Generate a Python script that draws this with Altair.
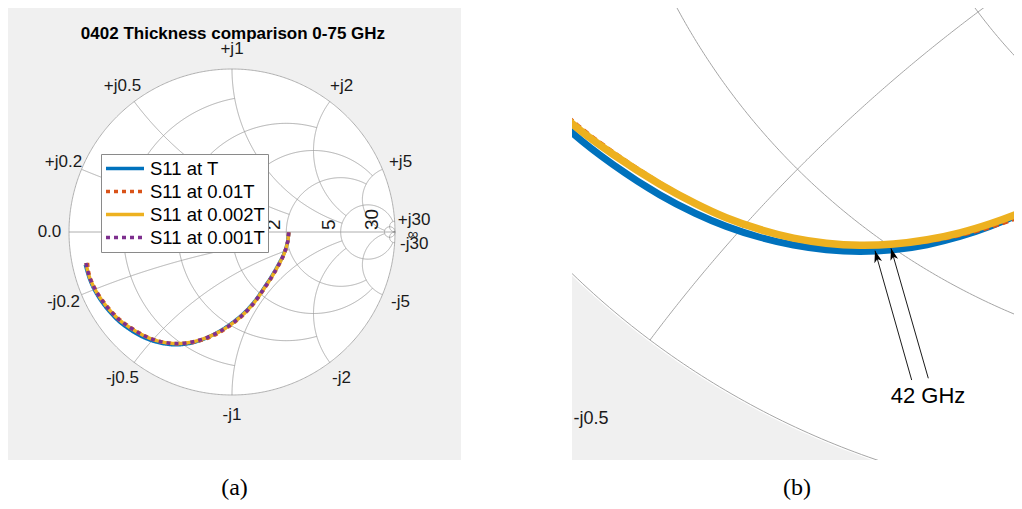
import numpy as np
import pandas as pd
import altair as alt

# ---------------------------------------------------------------
# Data: S11 reflection coefficient (real, imag), from DC to 75 GHz
# ---------------------------------------------------------------
series_names = ["S11 at T", "S11 at 0.01T", "S11 at 0.002T", "S11 at 0.001T"]
series_colors = ["#0072BD", "#D95319", "#EDB120", "#7E2F8E"]

t_re = [0.348, 0.346, 0.341, 0.330, 0.313, 0.290, 0.262, 0.235, 0.205, 0.175,
        0.139, 0.100, 0.065, 0.030, -0.005, -0.040, -0.074, -0.110, -0.147, -0.185,
        -0.222, -0.262, -0.303, -0.344, -0.385, -0.425, -0.465, -0.507, -0.545, -0.588,
        -0.645, -0.694, -0.735, -0.770, -0.805, -0.835, -0.860, -0.880, -0.900]
t_im = [-0.002, -0.025, -0.060, -0.100, -0.145, -0.190, -0.240, -0.285, -0.330, -0.375,
        -0.425, -0.470, -0.505, -0.535, -0.562, -0.586, -0.607, -0.627, -0.6453, -0.6613,
        -0.6738, -0.6838, -0.6900, -0.6920, -0.6899, -0.6842, -0.6750, -0.6614, -0.6454, -0.6230,
        -0.5861, -0.5480, -0.507, -0.467, -0.420, -0.372, -0.322, -0.270, -0.200]

t01_re = [0.348, 0.346, 0.341, 0.330, 0.313, 0.290, 0.262, 0.235, 0.205, 0.175,
          0.139, 0.100, 0.065, 0.030, -0.005, -0.040, -0.074, -0.110, -0.147, -0.185,
          -0.222, -0.262, -0.303, -0.344, -0.385, -0.425, -0.465, -0.507, -0.545, -0.588,
          -0.645, -0.694, -0.735, -0.770, -0.805, -0.835, -0.860, -0.878, -0.888]
t01_im = [-0.002, -0.026, -0.063, -0.105, -0.152, -0.198, -0.248, -0.293, -0.338, -0.383,
          -0.433, -0.478, -0.513, -0.543, -0.570, -0.594, -0.615, -0.634, -0.6503, -0.6633,
          -0.6733, -0.6808, -0.6850, -0.6855, -0.6824, -0.6757, -0.6650, -0.6494, -0.6309, -0.6070,
          -0.5696, -0.5320, -0.491, -0.451, -0.404, -0.356, -0.306, -0.253, -0.172]

t002_re = [0.348, 0.346, 0.341, 0.330, 0.313, 0.290, 0.262, 0.235, 0.205, 0.175,
           0.139, 0.100, 0.065, 0.030, -0.005, -0.040, -0.074, -0.110, -0.147, -0.185,
           -0.222, -0.262, -0.303, -0.344, -0.385, -0.425, -0.465, -0.507, -0.545, -0.588,
           -0.645, -0.694, -0.735, -0.770, -0.805, -0.835, -0.860, -0.880, -0.896]
t002_im = [-0.002, -0.026, -0.062, -0.103, -0.149, -0.194, -0.244, -0.289, -0.334, -0.379,
           -0.429, -0.474, -0.509, -0.539, -0.566, -0.590, -0.610, -0.628, -0.6443, -0.6583,
           -0.6693, -0.6778, -0.6830, -0.6845, -0.6819, -0.6757, -0.6655, -0.6509, -0.6334, -0.6100,
           -0.5736, -0.5370, -0.496, -0.456, -0.409, -0.361, -0.311, -0.259, -0.190]

t001_re = [0.348, 0.346, 0.341, 0.330, 0.313, 0.290, 0.262, 0.235, 0.205, 0.175,
           0.139, 0.100, 0.065, 0.030, -0.005, -0.040, -0.074, -0.110, -0.147, -0.185,
           -0.222, -0.262, -0.303, -0.344, -0.385, -0.425, -0.465, -0.507, -0.545, -0.588,
           -0.645, -0.694, -0.735, -0.770, -0.805, -0.835, -0.860, -0.880, -0.896]
t001_im = [-0.002, -0.026, -0.062, -0.103, -0.149, -0.194, -0.244, -0.289, -0.334, -0.379,
           -0.429, -0.474, -0.509, -0.539, -0.566, -0.590, -0.610, -0.628, -0.6443, -0.6583,
           -0.6693, -0.6778, -0.6830, -0.6845, -0.6819, -0.6757, -0.6655, -0.6509, -0.6334, -0.6100,
           -0.5736, -0.5370, -0.496, -0.456, -0.409, -0.361, -0.311, -0.259, -0.190]

# 42 GHz annotation (panel b): arrow tips on the curves, arrow tails, label
ann_tip_re = [-0.3256, -0.3061]
ann_tip_im = [-0.6911, -0.6882]
ann_tail_re = [-0.2809, -0.2606]
ann_tail_im = [-0.8488, -0.8467]
ann_label = "42 GHz"
ann_label_re = -0.261
ann_label_im = -0.868

# Smith chart grid values and the limit each circle / arc is drawn to
grid_values = [0.2, 0.5, 1, 2, 5, 30]
grid_limits = [1, 2, 5, 5, 30, np.inf]

title_text = "0402 Thickness comparison 0-75 GHz"

# ---------------------------------------------------------------
# Layout (pixels)
# ---------------------------------------------------------------
A_W, A_H = 453, 452
A_CX, A_CY, A_R = 224, 224, 163          # centre / radius of the Smith circle
B_W, B_H = 442, 452
B_CX, B_CY, B_S = 570, -324, 820          # zoomed view of the same chart

xdomA = [-A_CX / A_R, (A_W - A_CX) / A_R]
ydomA = [(A_CY - A_H) / A_R, A_CY / A_R]
xdomB = [-B_CX / B_S, (B_W - B_CX) / B_S]
ydomB = [(B_CY - B_H) / B_S, B_CY / B_S]

GRID_COLOR = "#9b9b9b"
FONT = "Liberation Sans"

# ---------------------------------------------------------------
# Build tables
# ---------------------------------------------------------------
series_re = [t_re, t01_re, t002_re, t001_re]
series_im = [t_im, t01_im, t002_im, t001_im]
curves = pd.concat([
    pd.DataFrame({"re": r, "im": m, "i": np.arange(len(r)), "series": n})
    for r, m, n in zip(series_re, series_im, series_names)
], ignore_index=True)


def gamma(z):
    return (z - 1) / (z + 1)


rows = []


def add_seg(name, pts):
    for k, p in enumerate(pts):
        rows.append({"seg": name, "i": k, "re": float(np.real(p)), "im": float(np.imag(p))})


add_seg("unit", np.exp(1j * np.linspace(0, 2 * np.pi, 721)))
add_seg("axis", np.array([-1 + 0j, 1 + 0j]))
for v, lim in zip(grid_values, grid_limits):
    c, rho = v / (1 + v), 1 / (1 + v)
    t0 = 0.0 if np.isinf(lim) else float(np.angle(gamma(v + 1j * lim) - c))
    add_seg(f"r{v}", c + rho * np.exp(1j * np.linspace(t0, 2 * np.pi - t0, 541)))
    cc, rr = 1 + 1j / v, 1 / v
    a0 = np.mod(np.angle(gamma(1j * v) - cc), 2 * np.pi)
    a1 = 1.5 * np.pi if np.isinf(lim) else np.mod(np.angle(gamma(lim + 1j * v) - cc), 2 * np.pi)
    pts = cc + rr * np.exp(1j * np.linspace(a0, a1, 361))
    add_seg(f"xp{v}", pts)
    add_seg(f"xm{v}", np.conj(pts))
grid = pd.DataFrame(rows)


def window(df, xd, yd, m=0.06):
    keep = (df.re >= xd[0] - m) & (df.re <= xd[1] + m) & (df.im >= yd[0] - m) & (df.im <= yd[1] + m)
    d = df[keep].copy()
    brk = (d.groupby("seg")["i"].diff() != 1).astype(int)
    d["run"] = brk.groupby(d["seg"]).cumsum()
    d["seg"] = d["seg"] + "_" + d["run"].astype(str)
    return d


gridB = window(grid, xdomB, ydomB)

th = np.linspace(np.pi, 0, 721)
disk = pd.DataFrame({"re": 1.002 * np.cos(th), "top": 1.002 * np.sin(th), "bot": -1.002 * np.sin(th)})
diskB = disk[(disk.re >= xdomB[0] - 0.06) & (disk.re <= xdomB[1] + 0.06)]

KL = 1.12
lab_rows = []
for v in grid_values:
    g = gamma(1j * v)
    lab_rows.append({"re": KL * g.real, "im": KL * g.imag, "text": f"+j{v:g}"})
    lab_rows.append({"re": KL * g.real, "im": -KL * g.imag, "text": f"-j{v:g}"})
lab_rows.append({"re": -KL, "im": 0.0, "text": "0.0"})
xlabels = pd.DataFrame(lab_rows)
xlabelsB = xlabels[(xlabels.re > xdomB[0]) & (xlabels.re < xdomB[1]) &
                   (xlabels.im > ydomB[0]) & (xlabels.im < ydomB[1])]
rlabels = pd.DataFrame({"re": [(v - 1) / (v + 1) for v in grid_values], "im": 0.0,
                        "text": [f"{v:g}" for v in grid_values]})
inf_label = pd.DataFrame({"re": [1.11], "im": [-0.012], "text": ["\u221e"]})
title_df = pd.DataFrame({"re": [0.006], "im": [(A_CY - 26) / A_R], "text": [title_text]})

ann = pd.DataFrame({"re": ann_tail_re, "im": ann_tail_im, "re2": ann_tip_re, "im2": ann_tip_im})
ann["angle"] = np.mod(np.degrees(np.arctan2(ann.re2 - ann.re, ann.im2 - ann.im)), 360)
ann_text = pd.DataFrame({"re": [ann_label_re], "im": [ann_label_im], "text": [ann_label]})

# ---------------------------------------------------------------
# Encodings helpers
# ---------------------------------------------------------------
def X(dom, f="re"):
    return alt.X(f"{f}:Q", scale=alt.Scale(domain=dom, nice=False, zero=False), axis=None)


def Y(dom, f="im"):
    return alt.Y(f"{f}:Q", scale=alt.Scale(domain=dom, nice=False, zero=False), axis=None)


legend = alt.Legend(title=None, orient="none", legendX=93, legendY=146,
                    symbolType="stroke", symbolSize=1444, symbolStrokeWidth=3.5,
                    labelFontSize=18.5, labelFont=FONT, labelColor="black",
                    fillColor="white", strokeColor="#8a8a8a", padding=3,
                    rowPadding=0, clipHeight=23, labelOffset=4)
color_enc = alt.Color("series:N", scale=alt.Scale(domain=series_names, range=series_colors), legend=legend)
dash_enc = alt.StrokeDash("series:N", scale=alt.Scale(domain=series_names,
                                                       range=[[1, 0], [4, 4], [1, 0], [4, 4]]), legend=legend)

# ---------------------------------------------------------------
# Panel (a)
# ---------------------------------------------------------------
la = []
la.append(alt.Chart(disk).mark_area(color="white").encode(x=X(xdomA), y=Y(ydomA, "top"), y2="bot:Q"))
la.append(alt.Chart(grid).mark_line(color=GRID_COLOR, strokeWidth=0.8).encode(
    x=X(xdomA), y=Y(ydomA), detail="seg:N", order="i:Q"))
for n in series_names:
    la.append(alt.Chart(curves[curves.series == n]).mark_line(
        strokeWidth=3.5, strokeCap="butt", interpolate="catmull-rom").encode(
        x=X(xdomA), y=Y(ydomA), order="i:Q", color=color_enc, strokeDash=dash_enc))
la.append(alt.Chart(xlabels).mark_text(font=FONT, fontSize=17, color="#1a1a1a", align="center",
                                       baseline="middle").encode(x=X(xdomA), y=Y(ydomA), text="text:N"))
la.append(alt.Chart(rlabels).mark_text(font=FONT, fontSize=19, color="#1a1a1a", align="left",
                                       baseline="bottom", angle=270, dx=2, dy=-2).encode(
    x=X(xdomA), y=Y(ydomA), text="text:N"))
la.append(alt.Chart(inf_label).mark_text(font=FONT, fontSize=15, color="#1a1a1a", align="center",
                                         baseline="middle").encode(x=X(xdomA), y=Y(ydomA), text="text:N"))
la.append(alt.Chart(title_df).mark_text(font=FONT, fontSize=17, fontWeight="bold", color="black",
                                        align="center", baseline="middle").encode(
    x=X(xdomA), y=Y(ydomA), text="text:N"))

panelA = alt.layer(*la).properties(
    width=A_W, height=A_H,
    title=alt.TitleParams("(a)", orient="bottom", font="Liberation Serif", fontSize=24,
                          fontWeight="normal", color="black", offset=16, anchor="middle"))

# ---------------------------------------------------------------
# Panel (b): zoom on the same chart near 42 GHz
# ---------------------------------------------------------------
lb = []
lb.append(alt.Chart(diskB).mark_area(color="white", clip=True).encode(x=X(xdomB), y=Y(ydomB, "top"), y2="bot:Q"))
lb.append(alt.Chart(gridB).mark_line(color=GRID_COLOR, strokeWidth=0.9, clip=True).encode(
    x=X(xdomB), y=Y(ydomB), detail="seg:N", order="i:Q"))
styleB = {series_names[0]: dict(strokeWidth=7, color=series_colors[0]),
          series_names[1]: dict(strokeWidth=2.5, color=series_colors[1], strokeDash=[6, 4]),
          series_names[2]: dict(strokeWidth=7.5, color=series_colors[2])}
for n in series_names[:3]:
    lb.append(alt.Chart(curves[curves.series == n]).mark_line(
        clip=True, strokeCap="butt", interpolate="catmull-rom", **styleB[n]).encode(
        x=X(xdomB), y=Y(ydomB), order="i:Q"))
lb.append(alt.Chart(xlabelsB).mark_text(font=FONT, fontSize=18, color="#1a1a1a", align="center",
                                        baseline="middle").encode(x=X(xdomB), y=Y(ydomB), text="text:N"))
lb.append(alt.Chart(ann).mark_rule(color="black", strokeWidth=0.9).encode(
    x=X(xdomB), y=Y(ydomB), x2="re2:Q", y2="im2:Q"))
lb.append(alt.Chart(ann).mark_point(shape="M0,0 L0.5,1.5 L0,1.1 L-0.5,1.5 Z", filled=True, size=250,
                                    color="black", opacity=1).encode(
    x=X(xdomB, "re2"), y=Y(ydomB, "im2"), angle=alt.Angle("angle:Q", scale=None)))
lb.append(alt.Chart(ann_text).mark_text(font=FONT, fontSize=22, color="black", align="center",
                                        baseline="middle").encode(x=X(xdomB), y=Y(ydomB), text="text:N"))

panelB = alt.layer(*lb).properties(
    width=B_W, height=B_H,
    title=alt.TitleParams("(b)", orient="bottom", font="Liberation Serif", fontSize=24,
                          fontWeight="normal", color="black", offset=16, anchor="middle", dx=4))

chart = alt.hconcat(panelA, panelB, spacing=111, bounds="flush").resolve_scale(
    x="independent", y="independent").properties(padding=0).configure_view(
    fill="#F0F0F0", strokeWidth=0)

chart.save("out.html", embed_options={"renderer": "svg", "actions": False})
